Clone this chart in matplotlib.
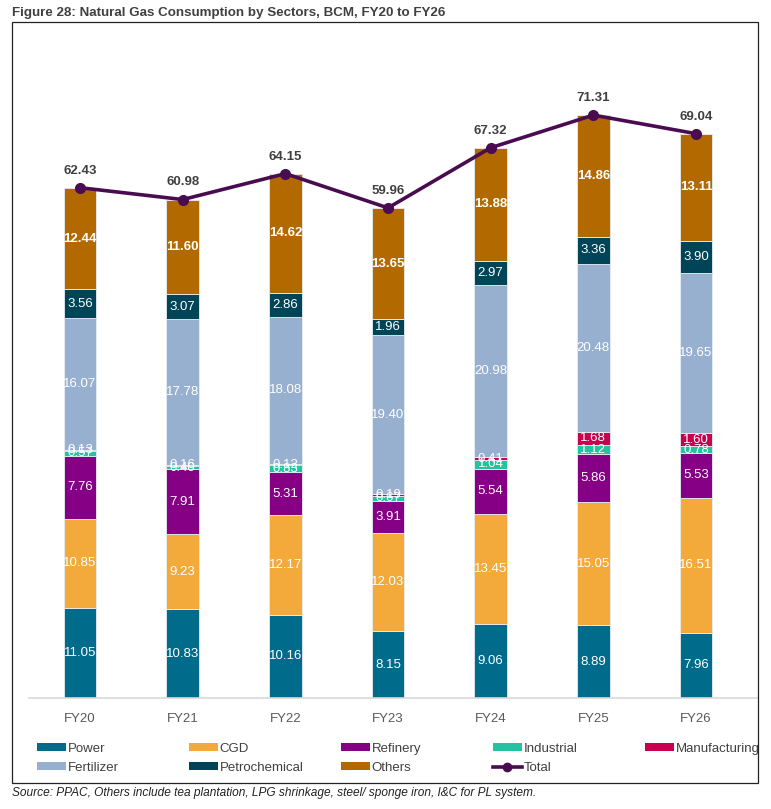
import numpy as np
import matplotlib.pyplot as plt
from matplotlib.patches import Rectangle, Patch
from matplotlib.lines import Line2D

plt.rcParams["font.family"] = ["Liberation Sans", "DejaVu Sans"]

years = ["FY20", "FY21", "FY22", "FY23", "FY24", "FY25", "FY26"]
power = [11.05, 10.83, 10.16, 8.15, 9.06, 8.89, 7.96]
cgd = [10.85, 9.23, 12.17, 12.03, 13.45, 15.05, 16.51]
refinery = [7.76, 7.91, 5.31, 3.91, 5.54, 5.86, 5.53]
industrial = [0.57, 0.40, 0.83, 0.67, 1.04, 1.12, 0.78]
manufacturing = [0.13, 0.16, 0.12, 0.19, 0.41, 1.68, 1.60]
fertilizer = [16.07, 17.78, 18.08, 19.40, 20.98, 20.48, 19.65]
petrochemical = [3.56, 3.07, 2.86, 1.96, 2.97, 3.36, 3.90]
others = [12.44, 11.60, 14.62, 13.65, 13.88, 14.86, 13.11]
total = [62.43, 60.98, 64.15, 59.96, 67.32, 71.31, 69.04]

series = [
    ("Power", power, "#006B8A"),
    ("CGD", cgd, "#F4A93B"),
    ("Refinery", refinery, "#850085"),
    ("Industrial", industrial, "#22C3A0"),
    ("Manufacturing", manufacturing, "#C9004F"),
    ("Fertilizer", fertilizer, "#97B0CF"),
    ("Petrochemical", petrochemical, "#004457"),
    ("Others", others, "#B26A00"),
]
line_color = "#4A0C50"

W, H = 771, 809
fig = plt.figure(figsize=(W / 100, H / 100), dpi=100)
ax = fig.add_axes([29 / W, 111 / H, 728 / W, 658 / H])

x = np.arange(len(years))
bottom = np.zeros(len(years))
for name, vals, col in series:
    vals = np.array(vals)
    ax.bar(x, vals, 0.32, bottom=bottom, color=col, edgecolor="#e6eef2",
           linewidth=0.6, label=name, zorder=2)
    bold = name == "Others"
    for xi, b, v in zip(x, bottom, vals):
        ax.text(xi, b + v / 2, f"{v:.2f}", ha="center", va="center",
                color="white", fontsize=9.5,
                fontweight="bold" if bold else "normal", zorder=4)
    bottom += vals

ax.plot(x, total, color=line_color, lw=2.6, marker="o", ms=7, zorder=5)
for xi, t in zip(x, total):
    ax.annotate(f"{t:.2f}", (xi, t), xytext=(0, 8), textcoords="offset points",
                ha="center", va="bottom", fontsize=9.5, fontweight="bold",
                color="#404040")

ax.set_xlim(-0.497, 6.594)
ax.set_ylim(0, 80.5)
ax.set_yticks([])
ax.set_xticks(x)
ax.set_xticklabels(years, fontsize=9.5, color="#595959")
ax.tick_params(axis="x", length=0, pad=11)
for s in ["top", "right", "left"]:
    ax.spines[s].set_visible(False)
ax.spines["bottom"].set_color("#d9d9d9")
ax.spines["bottom"].set_linewidth(1.2)

# legend, laid out as evenly spaced columns
handles = {name: Patch(facecolor=col) for name, _, col in series}
handles["Total"] = Line2D([0], [0], color=line_color, lw=2.6, marker="o", ms=6)
cols = [["Power", "Fertilizer"], ["CGD", "Petrochemical"], ["Refinery", "Others"],
        ["Industrial", "Total"], ["Manufacturing"]]
for i, names in enumerate(cols):
    fig.legend([handles[n] for n in names], names, loc="upper left",
               bbox_to_anchor=((30 + i * 152) / W, 1 - 736 / H), frameon=False,
               fontsize=9.5, handlelength=2.2, handleheight=0.55,
               handletextpad=0.15, labelspacing=0.55, borderpad=0,
               labelcolor="#404040")

fig.patches.append(Rectangle((12 / W, 1 - 783 / H), 746 / W, 761 / H,
                             transform=fig.transFigure, fill=False,
                             edgecolor="#222222", lw=0.9))
fig.text(12 / W, 1 - 13 / H, "Figure 28: Natural Gas Consumption by Sectors, BCM, FY20 to FY26",
         ha="left", va="center", fontsize=9.6, fontweight="bold", color="#404040")
fig.text(12 / W, 1 - 793 / H,
         "Source: PPAC, Others include tea plantation, LPG shrinkage, steel/ sponge iron, I&C for PL system.",
         ha="left", va="center", fontsize=8.6, style="italic", color="#222222")

fig.savefig("out.png", dpi=100)
